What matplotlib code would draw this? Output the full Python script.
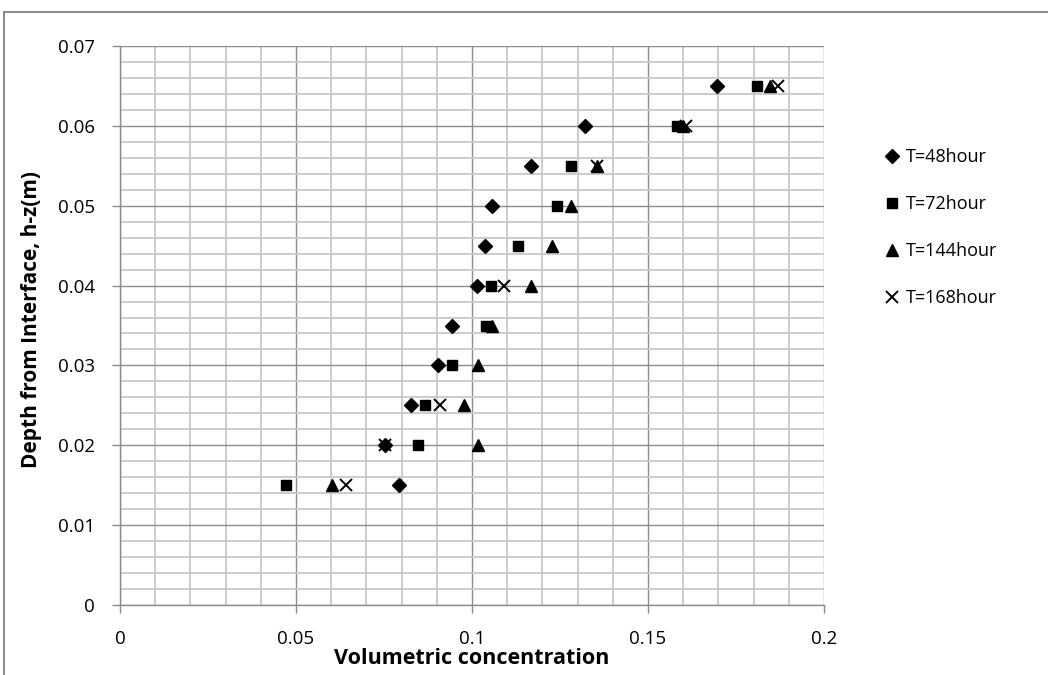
import matplotlib.pyplot as plt
from matplotlib.ticker import MultipleLocator, FuncFormatter
from matplotlib.patches import Rectangle

plt.rcParams['font.family'] = ['Open Sans', 'DejaVu Sans']

# depth from interface (m)
depth = [0.015, 0.02, 0.025, 0.03, 0.035, 0.04, 0.045, 0.05, 0.055, 0.06, 0.065]
depth_168 = [0.015, 0.02, 0.025, 0.04, 0.055, 0.06, 0.065]

c_48 = [0.0793, 0.0752, 0.0828, 0.0904, 0.0942, 0.1015, 0.1037, 0.1056, 0.1168, 0.1321, 0.1695]
c_72 = [0.0472, 0.0848, 0.0866, 0.0942, 0.1040, 0.1053, 0.1132, 0.1242, 0.1280, 0.1583, 0.1809]
c_144 = [0.0601, 0.1018, 0.0978, 0.1018, 0.1056, 0.1168, 0.1226, 0.1280, 0.1356, 0.1600, 0.1847]
c_168 = [0.0641, 0.0753, 0.0909, 0.1091, 0.1356, 0.1608, 0.1870]

labels = ['T=48hour', 'T=72hour', 'T=144hour', 'T=168hour']

fig = plt.figure(figsize=(10.48, 6.75), dpi=100)
ax = fig.add_axes([120/1048, 1-605/675, 704/1048, 559/675])

ax.plot(c_48, depth, 'D', color='black', ms=7.5, label=labels[0], linestyle='none')
ax.plot(c_72, depth, 's', color='black', ms=7.5, label=labels[1], linestyle='none')
ax.plot(c_144, depth, '^', color='black', ms=9, label=labels[2], linestyle='none')
ax.plot(c_168, depth_168, 'x', color='black', ms=8, mew=1.4, label=labels[3], linestyle='none')

ax.set_xlim(0, 0.2)
ax.set_ylim(0, 0.07)
ax.xaxis.set_major_locator(MultipleLocator(0.05))
ax.xaxis.set_minor_locator(MultipleLocator(0.01))
ax.yaxis.set_major_locator(MultipleLocator(0.01))
ax.yaxis.set_minor_locator(MultipleLocator(0.002))
ax.xaxis.set_major_formatter(FuncFormatter(lambda v, p: '0' if v == 0 else ('%.2f' % v).rstrip('0')))
ax.yaxis.set_major_formatter(FuncFormatter(lambda v, p: '0' if v == 0 else '%.2f' % v))

ax.grid(which='major', color='#8c8c8c', lw=1.0)
ax.grid(which='minor', color='#c8c8c8', lw=1.3)
ax.set_axisbelow(True)
for s in ['top', 'right']:
    ax.spines[s].set_visible(False)
for s in ['left', 'bottom']:
    ax.spines[s].set_color('#8c8c8c')
    ax.spines[s].set_linewidth(1.0)
ax.tick_params(which='major', length=6, width=1, color='#8c8c8c', labelsize=13.5)
ax.tick_params(which='minor', length=0)
ax.tick_params(axis='x', pad=12)
ax.tick_params(axis='y', pad=12)

ax.set_xlabel('Volumetric concentration', fontsize=15.5, fontweight='bold', labelpad=0)
ax.set_ylabel('Depth from Interface, h-z(m)', fontsize=15, fontweight='bold')
ax.yaxis.set_label_coords(-78/704, 0.51)

leg = fig.legend(loc='upper left', bbox_to_anchor=(862/1048, 1-132/675), frameon=False,
                 fontsize=13, labelspacing=1.6, handletextpad=0.05, handlelength=1.5)

fig.patches.append(Rectangle((4/1048, -0.05), 1.2, 1.05 - 12/675, transform=fig.transFigure,
                             fill=False, edgecolor='#8c8c8c', lw=1.5))

fig.savefig('out.png', dpi=100)
